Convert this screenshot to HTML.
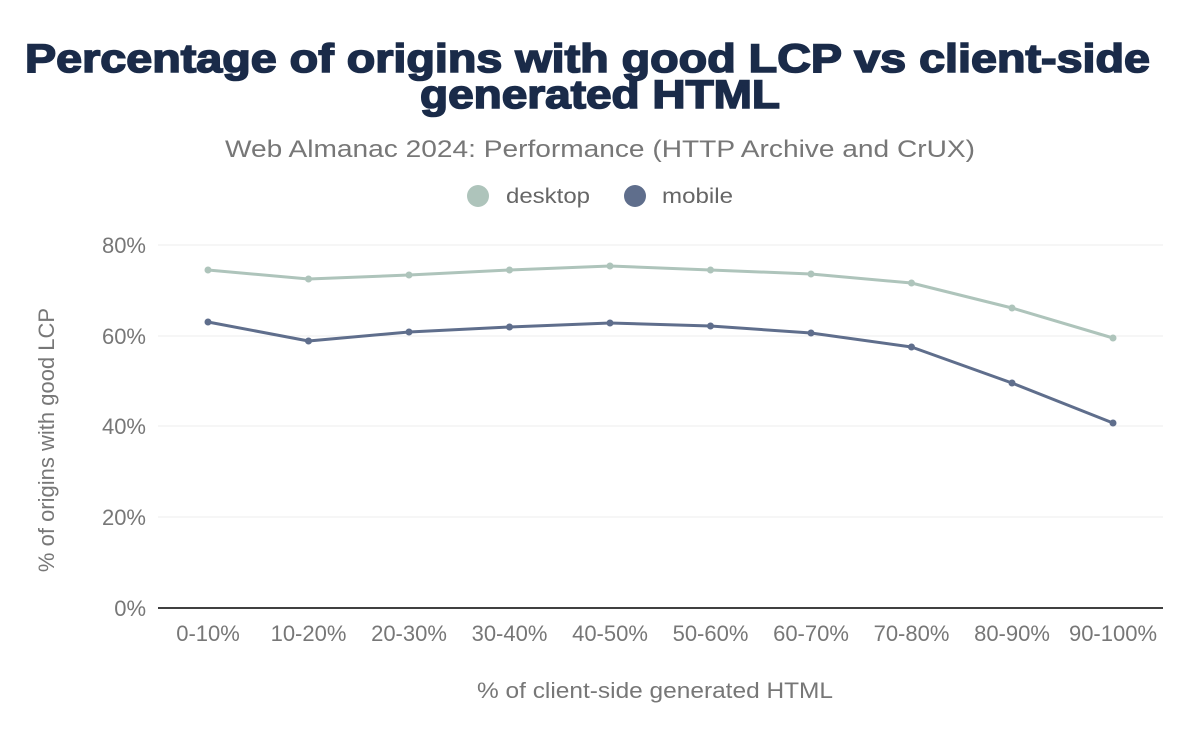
<!DOCTYPE html>
<html><head><meta charset="utf-8"><style>
body{margin:0;background:#fff;}
svg text{font-family:"Liberation Sans",Arial,sans-serif;}
</style></head><body>
<svg width="1200" height="742" viewBox="0 0 1200 742" xmlns="http://www.w3.org/2000/svg">
<rect width="1200" height="742" fill="#fff"/>
<text x="25" y="72" textLength="1125" lengthAdjust="spacingAndGlyphs" font-size="40" font-weight="bold" fill="#1a2b49" stroke="#1a2b49" stroke-width="1.6">Percentage of origins with good LCP vs client-side</text>
<text x="420" y="108" textLength="360" lengthAdjust="spacingAndGlyphs" font-size="40" font-weight="bold" fill="#1a2b49" stroke="#1a2b49" stroke-width="1.6">generated HTML</text>
<text x="225" y="157" textLength="750" lengthAdjust="spacingAndGlyphs" font-size="24" fill="#777">Web Almanac 2024: Performance (HTTP Archive and CrUX)</text>
<circle cx="478" cy="196" r="11" fill="#aec4bb"/>
<text x="506" y="203" textLength="84" lengthAdjust="spacingAndGlyphs" font-size="21" fill="#666">desktop</text>
<circle cx="635" cy="196" r="11" fill="#5f6e8c"/>
<text x="662" y="203" textLength="71" lengthAdjust="spacingAndGlyphs" font-size="21" fill="#666">mobile</text>
<g stroke="#eee" stroke-width="1">
<line x1="158" x2="1163" y1="517" y2="517"/>
<line x1="158" x2="1163" y1="426" y2="426"/>
<line x1="158" x2="1163" y1="336" y2="336"/>
<line x1="158" x2="1163" y1="245" y2="245"/>
</g>
<line x1="158" x2="1163" y1="608" y2="608" stroke="#000" stroke-width="1.5"/>
<g font-size="22" fill="#777" text-anchor="end">
<text x="146" y="616">0%</text>
<text x="146" y="525">20%</text>
<text x="146" y="434">40%</text>
<text x="146" y="344">60%</text>
<text x="146" y="253">80%</text>
</g>
<g font-size="22" fill="#777" text-anchor="middle">
<text x="208" y="641">0-10%</text>
<text x="308.5" y="641">10-20%</text>
<text x="409" y="641">20-30%</text>
<text x="509.5" y="641">30-40%</text>
<text x="610" y="641">40-50%</text>
<text x="710.5" y="641">50-60%</text>
<text x="811" y="641">60-70%</text>
<text x="911.5" y="641">70-80%</text>
<text x="1012" y="641">80-90%</text>
<text x="1113" y="641">90-100%</text>
</g>
<text x="655" y="698" text-anchor="middle" font-size="22" textLength="356" lengthAdjust="spacingAndGlyphs" fill="#777">% of client-side generated HTML</text>
<text transform="translate(54,440) rotate(-90)" text-anchor="middle" font-size="22" fill="#777">% of origins with good LCP</text>
<g fill="none" stroke-width="3" stroke-linejoin="round" stroke-linecap="round">
<polyline stroke="#aec4bb" points="208,270 308.5,279 409,275 509.5,270 610,266 710.5,270 811,274 911.5,283 1012,308 1113,338"/>
<polyline stroke="#5f6e8c" points="208,322 308.5,341 409,332 509.5,327 610,323 710.5,326 811,333 911.5,347 1012,383 1113,423"/>
</g>
<g fill="#aec4bb">
<circle cx="208" cy="270" r="3.5"/><circle cx="308.5" cy="279" r="3.5"/><circle cx="409" cy="275" r="3.5"/><circle cx="509.5" cy="270" r="3.5"/><circle cx="610" cy="266" r="3.5"/><circle cx="710.5" cy="270" r="3.5"/><circle cx="811" cy="274" r="3.5"/><circle cx="911.5" cy="283" r="3.5"/><circle cx="1012" cy="308" r="3.5"/><circle cx="1113" cy="338" r="3.5"/>
</g>
<g fill="#5f6e8c">
<circle cx="208" cy="322" r="3.5"/><circle cx="308.5" cy="341" r="3.5"/><circle cx="409" cy="332" r="3.5"/><circle cx="509.5" cy="327" r="3.5"/><circle cx="610" cy="323" r="3.5"/><circle cx="710.5" cy="326" r="3.5"/><circle cx="811" cy="333" r="3.5"/><circle cx="911.5" cy="347" r="3.5"/><circle cx="1012" cy="383" r="3.5"/><circle cx="1113" cy="423" r="3.5"/>
</g>
</svg>
</body></html>
